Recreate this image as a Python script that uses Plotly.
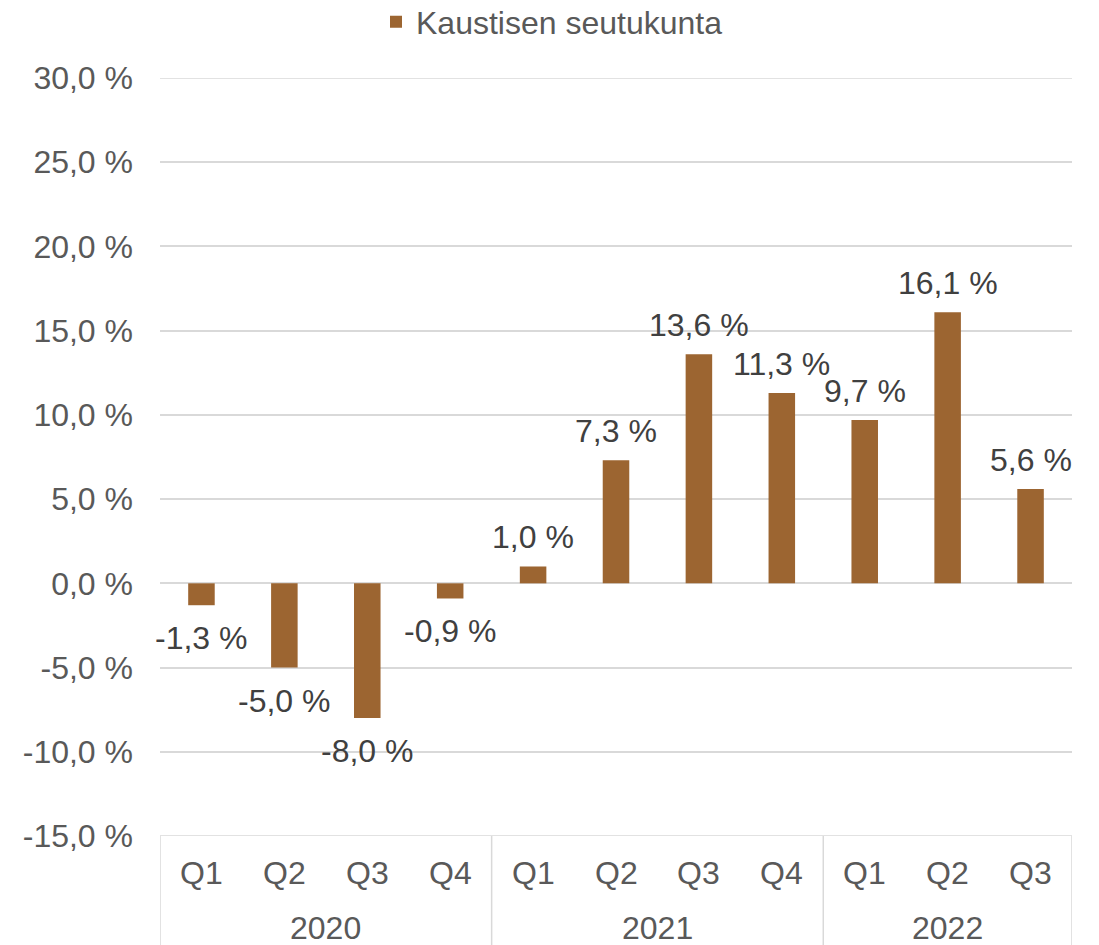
import plotly.graph_objects as go

quarters = ["Q1", "Q2", "Q3", "Q4", "Q1", "Q2", "Q3", "Q4", "Q1", "Q2", "Q3"]
years = ["2020", "2021", "2022"]
year_sizes = [4, 4, 3]
values = [-1.3, -5.0, -8.0, -0.9, 1.0, 7.3, 13.6, 11.3, 9.7, 16.1, 5.6]
labels = ["-1,3 %", "-5,0 %", "-8,0 %", "-0,9 %", "1,0 %", "7,3 %", "13,6 %",
          "11,3 %", "9,7 %", "16,1 %", "5,6 %"]
y_ticks = [-15, -10, -5, 0, 5, 10, 15, 20, 25, 30]
y_ticktext = ["-15,0 %", "-10,0 %", "-5,0 %", "0,0 %", "5,0 %", "10,0 %",
              "15,0 %", "20,0 %", "25,0 %", "30,0 %"]
series_name = "Kaustisen seutukunta"

FONT = "Arial, 'Liberation Sans', sans-serif"
TXT = "#595959"
GRID = "#d9d9d9"
BAR = "#9c6531"
FS = 32

xs = list(range(len(values)))

fig = go.Figure()
fig.add_trace(go.Bar(x=xs, y=values, name=series_name, marker_color=BAR,
                     marker_line_width=0, showlegend=True, hoverinfo="skip"))

annotations = []
for x, v, t in zip(xs, values, labels):
    annotations.append(dict(x=x, y=v, xref="x", yref="y", text=t, showarrow=False,
                            yshift=29 if v >= 0 else -33, yanchor="middle",
                            font=dict(family=FONT, size=FS, color="#404040")))
for x, q in zip(xs, quarters):
    annotations.append(dict(x=x, y=-0.049, xref="x", yref="paper", text=q,
                            showarrow=False, yanchor="middle",
                            font=dict(family=FONT, size=FS, color=TXT)))
shapes = []
# edge gridlines (top and bottom of the value range)
for yv in (y_ticks[0], y_ticks[-1]):
    shapes.append(dict(type="line", xref="paper", yref="y", x0=0, x1=1, y0=yv, y1=yv,
                       line=dict(color=GRID, width=1.5), layer="below"))
start = -0.5
shapes.append(dict(type="line", xref="x", yref="paper", x0=start, x1=start,
                   y0=0, y1=-0.25, line=dict(color=GRID, width=1.5)))
for yr, n in zip(years, year_sizes):
    end = start + n
    annotations.append(dict(x=(start + end) / 2, y=-0.122, xref="x", yref="paper",
                            text=yr, showarrow=False, yanchor="middle",
                            font=dict(family=FONT, size=FS, color=TXT)))
    shapes.append(dict(type="line", xref="x", yref="paper", x0=end, x1=end,
                       y0=0, y1=-0.25, line=dict(color=GRID, width=1.5)))
    start = end

fig.update_layout(
    width=1099, height=945,
    margin=dict(l=160, r=27, t=78, b=109, autoexpand=False),
    paper_bgcolor="white", plot_bgcolor="white",
    bargap=0.68,
    font=dict(family=FONT, size=FS, color=TXT),
    legend=dict(orientation="h", xref="container", x=376 / 1099, xanchor="left",
                yref="container", y=1 - 22 / 945, yanchor="middle",
                font=dict(family=FONT, size=FS, color=TXT), itemwidth=30),
    xaxis=dict(range=[-0.5, len(values) - 0.5], showticklabels=False, showgrid=False,
               zeroline=False, showline=False, ticks=""),
    yaxis=dict(range=[-15, 30], tickvals=y_ticks, ticktext=y_ticktext,
               showgrid=True, gridcolor=GRID, gridwidth=1.5, zeroline=True,
               zerolinecolor=GRID, zerolinewidth=1.5, showline=False, ticks="",
               ticklabelstandoff=26,
               tickfont=dict(family=FONT, size=FS, color=TXT)),
    annotations=annotations,
    shapes=shapes,
)

fig.write_html("out.html", config={"displayModeBar": False},
               post_script="document.body.style.margin='0px';document.body.style.overflow='hidden';")
